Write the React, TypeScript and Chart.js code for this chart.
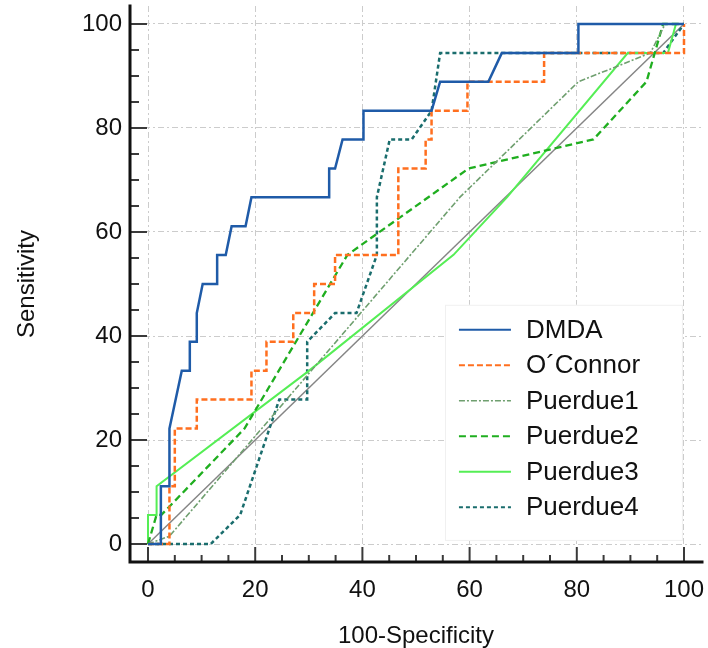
import React, { useEffect, useRef } from 'react';
import { Chart, registerables } from 'chart.js';

Chart.register(...registerables);

// ---- data (100-Specificity -> x, Sensitivity -> y) ----
const seriesNames = ['DMDA', 'O\u00B4Connor', 'Puerdue1', 'Puerdue2', 'Puerdue3', 'Puerdue4'];

const dmdaX = [0, 2.4, 2.4, 4, 4, 6.3, 7.8, 7.8, 9.1, 9.1, 10.2, 12.9, 12.9, 14.5, 15.6, 18.2, 19.3, 33.8, 33.8, 34.9, 36.3, 40.2, 40.2, 52.9, 54.5, 63.5, 66, 80.3, 80.3, 100];
const dmdaY = [0, 0, 11.1, 11.1, 22.2, 33.3, 33.3, 38.9, 38.9, 44.4, 50, 50, 55.6, 55.6, 61.1, 61.1, 66.7, 66.7, 72.2, 72.2, 77.8, 77.8, 83.3, 83.3, 88.9, 88.9, 94.4, 94.4, 100, 100];

const oconnorX = [0, 4, 4, 5, 5, 9.1, 9.1, 19.3, 19.3, 22.1, 22.1, 27.1, 27.1, 31, 31, 34.9, 34.9, 46.7, 46.7, 51.8, 51.8, 52.9, 52.9, 59.6, 59.6, 73.9, 73.9, 100, 100];
const oconnorY = [0, 0, 11.1, 11.1, 22.2, 22.2, 27.8, 27.8, 33.3, 33.3, 38.9, 38.9, 44.4, 44.4, 50, 50, 55.6, 55.6, 72.2, 72.2, 77.8, 77.8, 83.3, 83.3, 88.9, 88.9, 94.4, 94.4, 100];

const puerdue1X = [0, 4, 58.2, 80.3, 93.7, 96.5, 100];
const puerdue1Y = [0, 1.5, 66.7, 88.9, 94.4, 100, 100];

const puerdue2X = [0, 1.6, 2.5, 18, 37.2, 59.8, 83.1, 93, 96.1, 100];
const puerdue2Y = [0, 5.6, 5.6, 22.2, 55.6, 72.2, 77.8, 88.9, 100, 100];

const puerdue3X = [0, 0, 1.6, 1.6, 30, 57, 67, 89.5, 97, 98.5, 100];
const puerdue3Y = [0, 5.6, 5.6, 11.1, 33.3, 55.6, 66.7, 94.4, 94.4, 100, 100];

const puerdue4X = [0, 11.7, 17.2, 24.5, 29.7, 29.7, 34.9, 38.9, 42.7, 42.7, 45.1, 49.2, 52.9, 54.5, 96.1, 100];
const puerdue4Y = [0, 0, 5.6, 27.8, 27.8, 38.9, 44.4, 44.4, 55.6, 66.7, 77.8, 77.8, 83.3, 94.4, 94.4, 100];

const referenceX = [0, 100];
const referenceY = [0, 100];

const axisTicks = [0, 20, 40, 60, 80, 100];
const minorTicks = [0, 5, 10, 15, 20, 25, 30, 35, 40, 45, 50, 55, 60, 65, 70, 75, 80, 85, 90, 95, 100];

const FONT = '"Liberation Sans", Arial, Helvetica, sans-serif';

const styles = [
  { color: '#1f5ba8', dash: [] as number[], width: 2.5 },
  { color: '#ff6f1f', dash: [6, 3], width: 2.5 },
  { color: '#6f9f6f', dash: [6, 2, 2, 2], width: 1.6 },
  { color: '#1fae1f', dash: [7, 4], width: 2.3 },
  { color: '#55ee55', dash: [] as number[], width: 2 },
  { color: '#1a6d6d', dash: [4, 3], width: 2.5 },
];

const mk = (xs: number[], ys: number[]) => xs.map((x, i) => ({ x, y: ys[i] }));

const zeroPad = (s: any) => {
  s.paddingTop = 0;
  s.paddingBottom = 0;
  s.paddingLeft = 0;
  s.paddingRight = 0;
};

const framePlugin = {
  id: 'frame',
  afterDraw(chart: any) {
    const { ctx, chartArea } = chart;
    const xs = chart.scales.x;
    const ys = chart.scales.y;
    ctx.save();
    ctx.setLineDash([]);
    ctx.strokeStyle = '#3a3a3a';
    ctx.lineWidth = 2;
    minorTicks.forEach((v) => {
      const major = axisTicks.includes(v);
      const px = xs.getPixelForValue(v);
      ctx.beginPath();
      ctx.moveTo(px, chartArea.bottom);
      ctx.lineTo(px, chartArea.bottom - (major ? 15 : 7));
      ctx.stroke();
      const py = ys.getPixelForValue(v);
      ctx.beginPath();
      ctx.moveTo(chartArea.left, py);
      ctx.lineTo(chartArea.left + (major ? 17 : 9), py);
      ctx.stroke();
    });
    ctx.strokeStyle = '#111';
    ctx.lineWidth = 3;
    ctx.lineCap = 'square';
    ctx.beginPath();
    ctx.moveTo(chartArea.left, chartArea.top);
    ctx.lineTo(chartArea.left, chartArea.bottom);
    ctx.lineTo(chartArea.right, chartArea.bottom);
    ctx.stroke();
    ctx.restore();
  },
};

const legendPlugin = {
  id: 'rocLegend',
  afterDatasetsDraw(chart: any) {
    const { ctx } = chart;
    const xs = chart.scales.x;
    const ys = chart.scales.y;
    const left = xs.getPixelForValue(55.4);
    const right = xs.getPixelForValue(99.8);
    const top = ys.getPixelForValue(46);
    const bottom = ys.getPixelForValue(0.6);
    ctx.save();
    ctx.fillStyle = '#ffffff';
    ctx.fillRect(left, top, right - left, bottom - top);
    ctx.strokeStyle = '#f0f0f0';
    ctx.lineWidth = 1;
    ctx.strokeRect(left + 0.5, top + 0.5, right - left - 1, bottom - top - 1);
    ctx.font = `26px ${FONT}`;
    ctx.textBaseline = 'middle';
    ctx.textAlign = 'left';
    seriesNames.forEach((name, i) => {
      const y = top + 25 + i * 35.5;
      const s = styles[i];
      ctx.strokeStyle = s.color;
      ctx.lineWidth = Math.min(s.width, 2);
      ctx.setLineDash(s.dash);
      ctx.beginPath();
      ctx.moveTo(left + 14, y);
      ctx.lineTo(left + 66, y);
      ctx.stroke();
      ctx.setLineDash([]);
      ctx.fillStyle = '#111';
      ctx.fillText(name, left + 81, y + 1);
    });
    ctx.restore();
  },
};

export default function App() {
  const ref = useRef<HTMLCanvasElement>(null);
  useEffect(() => {
    const canvas = ref.current;
    if (!canvas) return;
    const series = [
      mk(dmdaX, dmdaY),
      mk(oconnorX, oconnorY),
      mk(puerdue1X, puerdue1Y),
      mk(puerdue2X, puerdue2Y),
      mk(puerdue3X, puerdue3Y),
      mk(puerdue4X, puerdue4Y),
    ];
    const datasets: any[] = series.map((d, i) => ({
      label: seriesNames[i],
      data: d,
      showLine: true,
      borderColor: styles[i].color,
      borderDash: styles[i].dash,
      borderWidth: styles[i].width,
      pointRadius: 0,
      tension: 0,
      fill: false,
    }));
    datasets.push({
      label: 'reference',
      data: mk(referenceX, referenceY),
      showLine: true,
      borderColor: '#858585',
      borderWidth: 1.5,
      pointRadius: 0,
      fill: false,
    });
    const tickFont = { family: FONT, size: 24 };
    const chart = new Chart(canvas, {
      type: 'scatter',
      data: { datasets },
      options: {
        responsive: false,
        animation: false,
        layout: { padding: { top: 6, right: 6, left: 0, bottom: 0 } },
        plugins: { legend: { display: false }, tooltip: { enabled: false } },
        scales: {
          x: {
            type: 'linear',
            min: -3.36,
            max: 103.36,
            afterBuildTicks: (s: any) => {
              s.ticks = axisTicks.map((v) => ({ value: v }));
            },
            afterFit: (s: any) => {
              s.height = 86;
              zeroPad(s);
            },
            grid: { color: '#cccccc', lineWidth: 1, drawTicks: false },
            border: { display: false, dash: [6, 3, 2, 3] },
            ticks: { padding: 14, color: '#111', font: tickFont, maxRotation: 0, autoSkip: false },
            title: {
              display: true,
              text: '100-Specificity',
              color: '#111',
              font: tickFont,
              padding: { top: 0, bottom: -3 },
            },
          },
          y: {
            type: 'linear',
            min: -3.46,
            max: 103.46,
            afterBuildTicks: (s: any) => {
              s.ticks = axisTicks.map((v) => ({ value: v }));
            },
            afterFit: (s: any) => {
              s.width = 130;
              zeroPad(s);
            },
            grid: { color: '#cccccc', lineWidth: 1, drawTicks: false },
            border: { display: false, dash: [6, 3, 2, 3] },
            ticks: { padding: 8, color: '#111', font: tickFont, autoSkip: false },
            title: {
              display: true,
              text: 'Sensitivity',
              color: '#111',
              font: tickFont,
              padding: { top: 13, bottom: 0 },
            },
          },
        },
      } as any,
      plugins: [legendPlugin, framePlugin],
    });
    return () => chart.destroy();
  }, []);
  return (
    <canvas
      ref={ref}
      width={708}
      height={648}
      style={{ position: 'absolute', left: 0, top: 0, display: 'block' }}
    />
  );
}
